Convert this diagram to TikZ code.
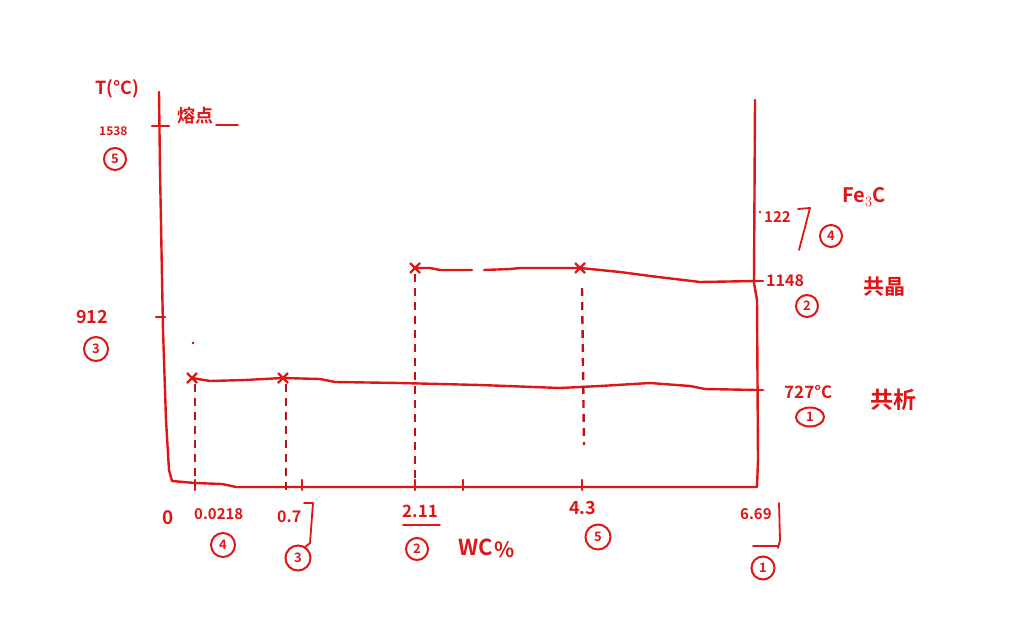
\documentclass[tikz,border=0pt]{standalone}
\usepackage{fontspec}
\setmainfont{Noto Sans CJK SC}[BoldFont={Noto Sans CJK SC Bold}]
\usetikzlibrary{calc,shapes.geometric}
\definecolor{pen}{RGB}{222,22,22}
\begin{document}
\begin{tikzpicture}[x=1pt,y=-1pt,
  ink/.style={draw=pen,line width=2.4pt,line cap=round,line join=round},
  dashv/.style={draw=pen!85!black,line width=2.4pt,dash pattern=on 8pt off 6pt},
  lbl/.style={text=pen,inner sep=0pt,font=\bfseries\fontsize{15}{15}\selectfont},
  big/.style={text=pen,inner sep=0pt,font=\bfseries\fontsize{18}{18}\selectfont},
  circ/.style={draw=pen,line width=2pt,circle,text=pen,inner sep=1.5pt,minimum size=22pt,font=\bfseries\fontsize{13}{13}\selectfont},
  xmark/.style={draw=pen,line width=2.2pt}]
\useasboundingbox (0,0) rectangle (1011,632);
% key points
\coordinate (ltop) at (159,92);
\coordinate (lbot) at (172,481);
\coordinate (rtop) at (755,100);
\coordinate (rbot) at (757,487);
\coordinate (A) at (192,378);
\coordinate (B) at (283,378);
\coordinate (C) at (415,268);
\coordinate (D) at (580,268);
\coordinate (E) at (757,390);
\coordinate (F) at (757,281);
% axes
\draw[ink] (ltop) -- (160,170) -- (163,330) -- (166,420) -- (169,470) -- (lbot)
  -- (195,483) -- (222,484) -- (236,487) -- (rbot);
\draw[ink] (rtop) -- (754,283) -- (757,300) -- (758,460) -- (rbot);
% left ticks
\draw[ink] (152,126) -- (169,126);
\draw[ink] (156,317) -- (165,317);
\fill[pen!70!black] (193,343) circle (1.3pt);
% eutectoid line
\draw[ink] (A) -- (210,381) -- (245,380) -- (B) -- (320,379) -- (335,382) -- (400,383)
  -- (480,385) -- (560,388) -- (600,386) -- (650,383) -- (690,386) -- (705,389) -- (E);
% eutectic line
\draw[ink] (C) -- (430,268) -- (440,270) -- (472,270);
\draw[ink] (484,270) -- (510,269) -- (520,268) -- (D) -- (620,272) -- (650,276) -- (700,282) -- (F);
% x marks
\foreach \p in {A,B,C,D}{
  \draw[xmark] ($(\p)+(-5,-5)$) -- ($(\p)+(5,5)$);
  \draw[xmark] ($(\p)+(-5,5)$) -- ($(\p)+(5,-5)$);
}
% dashed verticals
\draw[dashv] (195,384) -- (195,483);
\draw[dashv] (286,384) -- (286,495);
\draw[dashv] (415,274) -- (415,486);
\draw[dashv] (582,288) -- (584,445);
% bottom ticks
\foreach \x in {195,302,415,463,582}{\draw[ink] (\x,480) -- (\x,490);}
% right ticks
\draw[ink] (750,281) -- (763,281);
\draw[ink] (750,390) -- (763,390);
\fill[pen] (760,212) circle (1.4pt);
% left labels
\node[big,anchor=west] (tlab) at (95,89) {T(°C)};
\node[lbl,font=\bfseries\fontsize{12}{12}\selectfont,anchor=west] (l1538) at (99,131) {1538};
\node[circ,minimum size=22pt] (c5a) at (115,159) {5};
\node[lbl,font=\bfseries\fontsize{18}{18}\selectfont,anchor=west] (mp) at (177,116) {熔点};
\draw[ink,line width=1.8pt] (216,125) -- (238,125);
\node[big,font=\bfseries\fontsize{18}{18}\selectfont,anchor=west] (l912) at (76,317) {912};
\node[circ,minimum size=24pt] (c3a) at (96,349) {3};
% right labels
\node[big,font=\bfseries\fontsize{20}{20}\selectfont,anchor=west] (fe3c) at (842,197) {Fe$_3$C};
\node[lbl,anchor=west] (l1227) at (764,217) {122};
\draw[ink,line width=1.8pt] (798,209) -- (810,208) -- (799,250);
\node[circ] (c4a) at (831,236) {4};
\node[lbl,font=\bfseries\fontsize{16}{16}\selectfont,anchor=west] (l1148) at (766,281) {1148};
\node[circ] (c2a) at (807,306) {2};
\node[big,font=\bfseries\fontsize{21}{21}\selectfont,anchor=west] (eut) at (863,287) {共晶};
\node[lbl,font=\bfseries\fontsize{17}{17}\selectfont,anchor=west] (l727) at (784,392) {727°C};
\node[circ,ellipse,minimum width=28pt,minimum height=19pt] (c1a) at (810,417) {1};
\node[big,font=\bfseries\fontsize{23}{23}\selectfont,anchor=west] (eud) at (870,400) {共析};
% bottom labels
\node[big,font=\bfseries\fontsize{19}{19}\selectfont,anchor=west] (l0) at (162,518) {0};
\node[lbl,anchor=west] (l0218) at (194,514) {0.0218};
\node[circ,minimum size=24pt] (c4b) at (223,545) {4};
\node[lbl,font=\bfseries\fontsize{16}{16}\selectfont,anchor=west] (l077) at (277,517) {0.7};
\draw[ink,line width=1.8pt] (304,503) -- (313,503) -- (310,543) -- (305,547);
\node[circ,minimum size=25pt] (c3b) at (298,558) {3};
\node[lbl,font=\bfseries\fontsize{17}{17}\selectfont,anchor=west] (l211) at (402,511) {2.11};
\draw[ink,line width=1.8pt] (403,525) -- (440,525);
\node[circ] (c2b) at (417,549) {2};
\node[big,font=\bfseries\fontsize{22}{22}\selectfont,anchor=west] (wc) at (458,547) {WC};
\node[big,font=\bfseries\fontsize{21}{21}\selectfont,anchor=west] (pct) at (494,550) {\%};
\node[lbl,font=\bfseries\fontsize{18}{18}\selectfont,anchor=west] (l43) at (569,508) {4.3};
\node[circ,minimum size=25pt] (c5b) at (598,537) {5};
\node[lbl,anchor=west] (l669) at (740,514) {6.69};
\draw[ink,line width=1.8pt] (779,503) -- (780,540) -- (778,548);
\draw[ink,line width=1.8pt] (753,546) -- (778,546);
\node[circ,minimum size=23pt] (c1b) at (763,568) {1};
\end{tikzpicture}
\end{document}
